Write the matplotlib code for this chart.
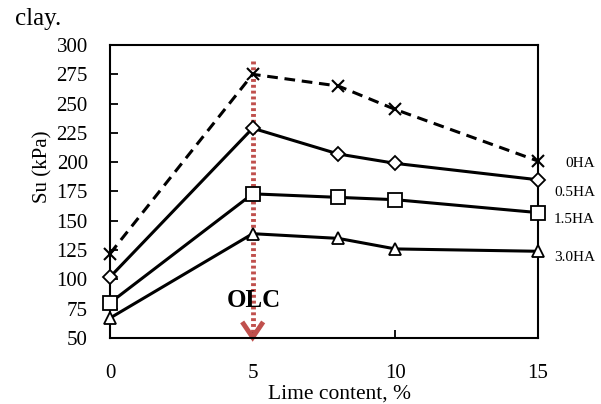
import matplotlib
matplotlib.use("Agg")
import matplotlib.pyplot as plt

plt.rcParams['font.family'] = ['Liberation Serif', 'DejaVu Serif']

lime = [0, 5, 8, 10, 15]
su_0HA = [122, 275, 265, 245, 201]
su_05HA = [102, 229, 207, 199, 185]
su_15HA = [80, 173, 170, 168, 157]
su_30HA = [67, 139, 135, 126, 124]
series_labels = ["0HA", "0.5HA", "1.5HA", "3.0HA"]
label_y = [198.5, 174, 151, 119]
yticks = [50, 75, 100, 125, 150, 175, 200, 225, 250, 275, 300]
xticks = [0, 5, 10, 15]
olc_x = 5

fig = plt.figure(figsize=(6.01, 4.04), dpi=100)
ax = fig.add_axes([110/601, 1-338/404, 428/601, 293/404])

lw = 2.2
common = dict(color='black', lw=lw, clip_on=False, zorder=3, mfc='white', mec='black')
ax.plot(lime, su_0HA, ls=(0, (3.5, 2.2)), marker='x', ms=9, mew=1.5, **common)
ax.plot(lime, su_05HA, marker='D', ms=7, mew=1.3, **common)
ax.plot(lime, su_15HA, marker='s', ms=10, mew=1.3, **common)
ax.plot(lime, su_30HA, marker='^', ms=9, mew=1.3, **common)

# OLC arrow
ax.plot([olc_x, olc_x], [286, 53], color='#C0504D', lw=3.5, ls=(0, (0.6, 0.6)), zorder=2)
ax.plot([olc_x - 0.32, olc_x, olc_x + 0.32], [62, 50.5, 62], color='#C0504D', lw=3.5, zorder=2,
        solid_joinstyle='miter', clip_on=False)
ax.text(5.05, 82, "OLC", fontsize=18, fontweight='bold', ha='center', va='center', zorder=4)

ax.set_xlim(0, 15)
ax.set_ylim(50, 300)
ax.set_xticks(xticks)
ax.set_yticks(yticks)
ax.tick_params(axis='y', direction='in', length=6, width=1.3, labelsize=15, pad=16)
ax.tick_params(axis='x', direction='in', length=6, width=1.3, labelsize=15, pad=19)
for s in ax.spines.values():
    s.set_linewidth(1.5)
ax.set_xlabel("Lime content, %", fontsize=15.5)
ax.xaxis.set_label_coords((340 - 110) / 428, (338 - 385) / 293)
ax.set_ylabel("Su (kPa)", fontsize=15)
ax.yaxis.set_label_coords((52 - 110) / 428, (338 - 167) / 293)

for lab, yy in zip(series_labels, label_y):
    ax.text(17.0, yy, lab, fontsize=11, ha='right', va='center', clip_on=False)

fig.text(15/601, 1-19/404, "clay.", fontsize=18, ha='left', va='center')

fig.savefig("out.png", dpi=100)
